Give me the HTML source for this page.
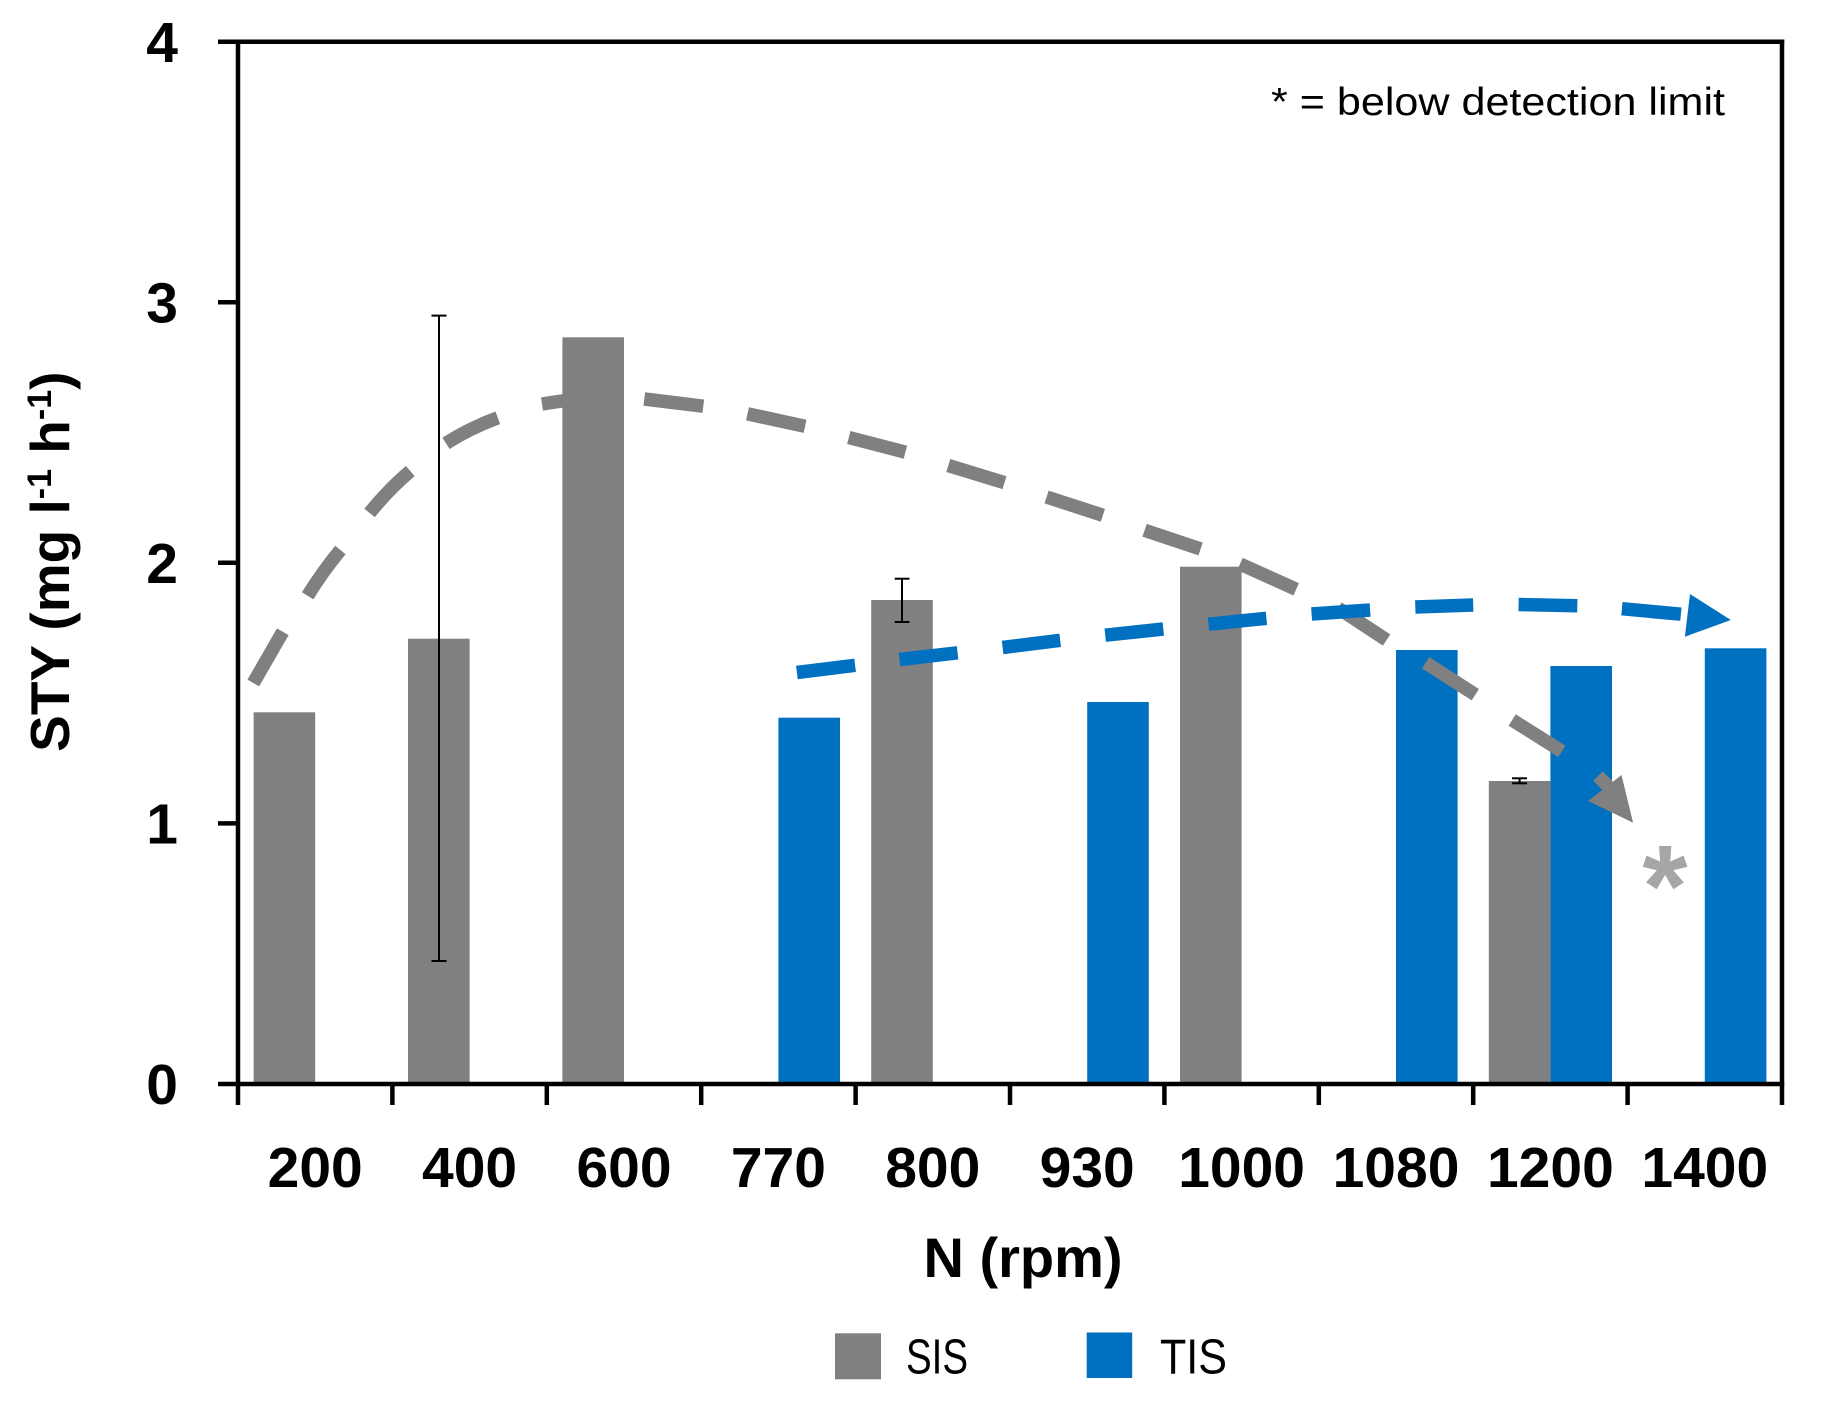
<!DOCTYPE html>
<html>
<head>
<meta charset="utf-8">
<style>
  html, body { margin: 0; padding: 0; background: #ffffff; }
  svg { display: block; }
</style>
</head>
<body>
<svg width="1822" height="1402" viewBox="0 0 1822 1402" xmlns="http://www.w3.org/2000/svg">
  <rect x="0" y="0" width="1822" height="1402" fill="#ffffff"/>

  <!-- TIS bars -->
  <g fill="#0070C0">
    <rect x="778.4" y="717.7" width="61.6" height="366.3"/>
    <rect x="1087.2" y="702" width="61.6" height="382"/>
    <rect x="1396" y="650" width="61.6" height="434"/>
    <rect x="1550.4" y="666" width="61.6" height="418"/>
    <rect x="1704.8" y="648.3" width="61.6" height="435.7"/>
  </g>

  <!-- Gray dashed trend with arrow -->
  <g stroke="#808080" stroke-width="13.5" stroke-linecap="butt" fill="none">
    <line x1="253.3" y1="683" x2="282.8" y2="631.7"/>
    <path d="M307.6,595.8 Q323,571 340.4,550"/>
    <path d="M369.6,513 Q388,490 410.3,471"/>
    <path d="M446,443.3 Q470,428 497.8,417.8"/>
    <line x1="542" y1="404" x2="599.4" y2="395.3"/>
    <line x1="644.3" y1="399" x2="703.3" y2="406.2"/>
    <line x1="747.5" y1="413.8" x2="805.1" y2="426.3"/>
    <line x1="848.8" y1="437.5" x2="905.4" y2="452.2"/>
    <line x1="948.3" y1="465.5" x2="1004.5" y2="482.7"/>
    <line x1="1046.6" y1="497" x2="1102.9" y2="515.3"/>
    <line x1="1144.6" y1="530.3" x2="1200.6" y2="549"/>
    <line x1="1240" y1="564" x2="1296.2" y2="589.3"/>
    <line x1="1338" y1="608" x2="1386.6" y2="640"/>
    <line x1="1425.6" y1="662.7" x2="1475.3" y2="694.7"/>
    <line x1="1512.2" y1="720" x2="1561.9" y2="751.3"/>
    <line x1="1598" y1="776" x2="1608" y2="786"/>
  </g>
  <polygon points="1621.5,775 1633.1,822.7 1588.1,801" fill="#808080"/>

  <!-- SIS bars -->
  <g fill="#808080">
    <rect x="253.6" y="712.3" width="61.6" height="371.7"/>
    <rect x="408" y="638.7" width="61.6" height="445.3"/>
    <rect x="562.4" y="337.3" width="61.6" height="746.7"/>
    <rect x="871.2" y="600" width="61.6" height="484"/>
    <rect x="1180" y="566.7" width="61.6" height="517.3"/>
    <rect x="1488.8" y="781" width="61.6" height="303"/>
  </g>

  <!-- Error bars -->
  <g stroke="#000000" stroke-width="2" fill="none">
    <line x1="439" y1="315.6" x2="439" y2="961"/>
    <line x1="431.5" y1="315.6" x2="446.5" y2="315.6"/>
    <line x1="431.5" y1="961" x2="446.5" y2="961"/>
    <line x1="902" y1="578.7" x2="902" y2="622"/>
    <line x1="894.7" y1="578.7" x2="909.5" y2="578.7"/>
    <line x1="894.7" y1="622" x2="909.5" y2="622"/>
    <line x1="1519.6" y1="778.3" x2="1519.6" y2="783.3"/>
    <line x1="1512" y1="778.3" x2="1527" y2="778.3"/>
    <line x1="1512" y1="783.3" x2="1527" y2="783.3"/>
  </g>

  <!-- Blue dashed trend with arrow -->
  <g stroke="#0070C0" stroke-width="13.5" stroke-linecap="butt" fill="none">
    <line x1="796.9" y1="672.5" x2="855.1" y2="665.3"/>
    <line x1="899.5" y1="659.5" x2="957.6" y2="652.8"/>
    <line x1="1002.6" y1="647.5" x2="1060.2" y2="640.3"/>
    <line x1="1105.2" y1="635.2" x2="1163.3" y2="629"/>
    <line x1="1208.5" y1="624.2" x2="1266.4" y2="618.3"/>
    <line x1="1311.6" y1="614" x2="1370.1" y2="610"/>
    <line x1="1415.3" y1="607" x2="1473.2" y2="605"/>
    <line x1="1518.6" y1="604.5" x2="1577.3" y2="605.8"/>
    <line x1="1621.9" y1="608.7" x2="1680.9" y2="614.2"/>
  </g>
  <polygon points="1690,594 1730.8,620 1684.9,636.7" fill="#0070C0"/>

  <!-- Asterisk (below detection limit) -->
  <text x="1665" y="926" font-family="Liberation Sans, sans-serif" font-weight="bold" font-size="116" fill="#A6A6A6" text-anchor="middle">*</text>

  <!-- Axes / frame -->
  <g stroke="#000000" stroke-width="4.5" fill="none" stroke-linecap="butt">
    <line x1="238" y1="39.5" x2="238" y2="1105"/>
    <line x1="1782" y1="39.5" x2="1782" y2="1105"/>
    <line x1="218" y1="41.7" x2="1784.2" y2="41.7"/>
    <line x1="218" y1="1084" x2="1784.2" y2="1084"/>
    <!-- y ticks -->
    <line x1="218" y1="302.3" x2="238" y2="302.3"/>
    <line x1="218" y1="562.8" x2="238" y2="562.8"/>
    <line x1="218" y1="823.4" x2="238" y2="823.4"/>
    <!-- x ticks -->
    <line x1="392.4" y1="1084" x2="392.4" y2="1105"/>
    <line x1="546.8" y1="1084" x2="546.8" y2="1105"/>
    <line x1="701.2" y1="1084" x2="701.2" y2="1105"/>
    <line x1="855.6" y1="1084" x2="855.6" y2="1105"/>
    <line x1="1010" y1="1084" x2="1010" y2="1105"/>
    <line x1="1164.4" y1="1084" x2="1164.4" y2="1105"/>
    <line x1="1318.8" y1="1084" x2="1318.8" y2="1105"/>
    <line x1="1473.2" y1="1084" x2="1473.2" y2="1105"/>
    <line x1="1627.6" y1="1084" x2="1627.6" y2="1105"/>
  </g>

  <!-- Y tick labels -->
  <g font-family="Liberation Sans, sans-serif" font-weight="bold" font-size="57" fill="#000000" text-anchor="end">
    <text x="178" y="62">4</text>
    <text x="178" y="322.5">3</text>
    <text x="178" y="583">2</text>
    <text x="178" y="843.5">1</text>
    <text x="178" y="1104">0</text>
  </g>

  <!-- X tick labels -->
  <g font-family="Liberation Sans, sans-serif" font-weight="bold" font-size="57" fill="#000000" text-anchor="middle">
    <text x="315.2" y="1187">200</text>
    <text x="469.6" y="1187">400</text>
    <text x="624" y="1187">600</text>
    <text x="778.4" y="1187">770</text>
    <text x="932.8" y="1187">800</text>
    <text x="1087.2" y="1187">930</text>
    <text x="1241.6" y="1187">1000</text>
    <text x="1396" y="1187">1080</text>
    <text x="1550.4" y="1187">1200</text>
    <text x="1704.8" y="1187">1400</text>
  </g>

  <!-- X axis title -->
  <text x="1023" y="1277" font-family="Liberation Sans, sans-serif" font-weight="bold" font-size="56" fill="#000000" text-anchor="middle">N (rpm)</text>

  <!-- Y axis title -->
  <text transform="translate(69,561.7) rotate(-90)" x="0" y="0" font-family="Liberation Sans, sans-serif" font-weight="bold" font-size="55" fill="#000000" text-anchor="middle">STY (mg l<tspan font-size="34" dy="-18">-1</tspan><tspan dy="18"> h</tspan><tspan font-size="34" dy="-18">-1</tspan><tspan dy="18">)</tspan></text>

  <!-- Note -->
  <text x="1271" y="115" font-family="Liberation Sans, sans-serif" font-size="39" fill="#000000" textLength="454" lengthAdjust="spacingAndGlyphs">* = below detection limit</text>

  <!-- Legend -->
  <rect x="835" y="1333.3" width="46" height="46" fill="#808080"/>
  <text x="906" y="1373.3" font-family="Liberation Sans, sans-serif" font-size="49" fill="#000000" textLength="62" lengthAdjust="spacingAndGlyphs">SIS</text>
  <rect x="1086.7" y="1332.5" width="45.5" height="45.5" fill="#0070C0"/>
  <text x="1160" y="1373.3" font-family="Liberation Sans, sans-serif" font-size="49" fill="#000000" textLength="67" lengthAdjust="spacingAndGlyphs">TIS</text>
</svg>
</body>
</html>
